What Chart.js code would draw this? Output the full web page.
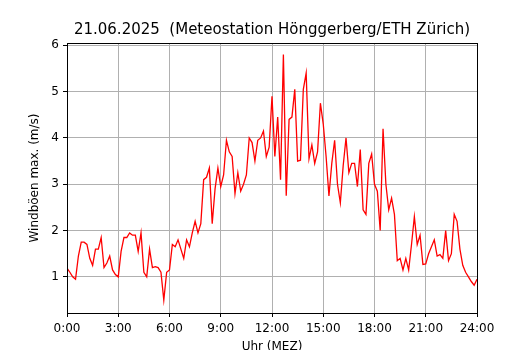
<!DOCTYPE html>
<html lang="de">
<head>
    <meta charset="UTF-8">
    <title>Windböen 21.06.2025</title>
    <script src="https://cdn.jsdelivr.net/npm/chart.js"></script>
    <style>
        body { margin: 0; background: #fff; }
        #wrap { width: 530px; height: 350px; }
    </style>
</head>
<body>
    <div id="wrap"><canvas id="windChart" width="530" height="350"></canvas></div>
    <script>
        // 10-Minuten-Werte, 0:00 bis 24:00
        const stepMinutes = 10;
        const gustValues = [
            1.19, 1.10, 1.00, 0.95, 1.45, 1.75, 1.75, 1.70, 1.40, 1.25,
            1.60, 1.60, 1.85, 1.20, 1.30, 1.45, 1.15, 1.05, 1.00, 1.55,
            1.85, 1.85, 1.95, 1.90, 1.90, 1.55, 1.95, 1.10, 1.00, 1.60,
            1.20, 1.22, 1.20, 1.10, 0.50, 1.10, 1.15, 1.70, 1.65, 1.80,
            1.60, 1.40, 1.80, 1.65, 1.95, 2.20, 1.95, 2.15, 3.10, 3.15,
            3.35, 2.15, 2.90, 3.35, 2.95, 3.20, 3.95, 3.70, 3.60, 2.80,
            3.25, 2.85, 3.00, 3.20, 4.00, 3.90, 3.50, 3.95, 4.00, 4.15,
            3.60, 3.80, 4.90, 3.60, 4.45, 3.10, 5.80, 2.75, 4.40, 4.45,
            5.05, 3.50, 3.52, 5.05, 5.40, 3.55, 3.85, 3.45, 3.70, 4.75,
            4.30, 3.60, 2.75, 3.45, 3.95, 3.00, 2.60, 3.40, 4.00, 3.25,
            3.45, 3.45, 2.95, 3.75, 2.45, 2.35, 3.45, 3.65, 3.00, 2.85,
            2.00, 4.20, 3.00, 2.45, 2.70, 2.35, 1.35, 1.40, 1.15, 1.40,
            1.15, 1.70, 2.30, 1.70, 1.90, 1.27, 1.28, 1.50, 1.65, 1.80,
            1.45, 1.48, 1.40, 2.00, 1.35, 1.50, 2.35, 2.20, 1.60, 1.25,
            1.10, 1.00, 0.90, 0.82, 0.95
        ];
        const xTickLabels = ['0:00', '3:00', '6:00', '9:00', '12:00', '15:00', '18:00', '21:00', '24:00'];
        const yTickValues = [1, 2, 3, 4, 5, 6];

        const points = gustValues.map((v, i) => ({ x: i * stepMinutes, y: v }));

        // Rahmen rundherum wie bei matplotlib
        const frame = {
            id: 'frame',
            afterDatasetsDraw(chart) {
                const a = chart.chartArea;
                const c = chart.ctx;
                c.save();
                c.strokeStyle = '#000';
                c.lineWidth = 1;
                c.strokeRect(Math.round(a.left) + 0.5, Math.round(a.top) + 0.5,
                    Math.round(a.right - a.left), Math.round(a.bottom - a.top));
                c.restore();
            }
        };

        Chart.defaults.font.family = '"DejaVu Sans", sans-serif';
        Chart.defaults.color = '#000';

        new Chart(document.getElementById('windChart').getContext('2d'), {
            type: 'line',
            data: {
                datasets: [{
                    data: points,
                    borderColor: '#ff0000',
                    borderWidth: 1.3,
                    pointRadius: 0,
                    tension: 0,
                    fill: false
                }]
            },
            options: {
                responsive: false,
                animation: false,
                layout: { padding: { left: 0, right: 53, top: 0, bottom: -4 } },
                plugins: {
                    legend: { display: false },
                    tooltip: { enabled: false },
                    title: {
                        display: true,
                        text: '21.06.2025  (Meteostation Hönggerberg/ETH Zürich)',
                        fullSize: false,
                        font: { size: 15, weight: 'normal' },
                        padding: { top: 21, bottom: 4 }
                    }
                },
                scales: {
                    x: {
                        type: 'linear',
                        min: 0,
                        max: 1440,
                        afterFit: s => { s.height = 41; },
                        ticks: {
                            stepSize: 180,
                            font: { size: 12 },
                            padding: 5,
                            maxRotation: 0,
                            callback: v => xTickLabels[v / 180]
                        },
                        grid: { color: '#b0b0b0', lineWidth: 1, tickColor: '#000', tickLength: 4 },
                        border: { color: '#000' },
                        title: { display: true, text: 'Uhr (MEZ)', font: { size: 12 }, padding: 0 }
                    },
                    y: {
                        min: 0.22,
                        max: 6.05,
                        afterFit: s => { s.width = 67; },
                        afterBuildTicks: s => { s.ticks = yTickValues.map(v => ({ value: v })); },
                        ticks: {
                            font: { size: 12 },
                            padding: 4,
                            callback: v => String(v)
                        },
                        grid: { color: '#b0b0b0', lineWidth: 1, tickColor: '#000', tickLength: 4 },
                        border: { color: '#000' },
                        title: { display: true, text: 'Windböen max. (m/s)', font: { size: 12 }, padding: { top: 28, bottom: 0 } }
                    }
                }
            },
            plugins: [frame]
        });
    </script>
</body>
</html>
